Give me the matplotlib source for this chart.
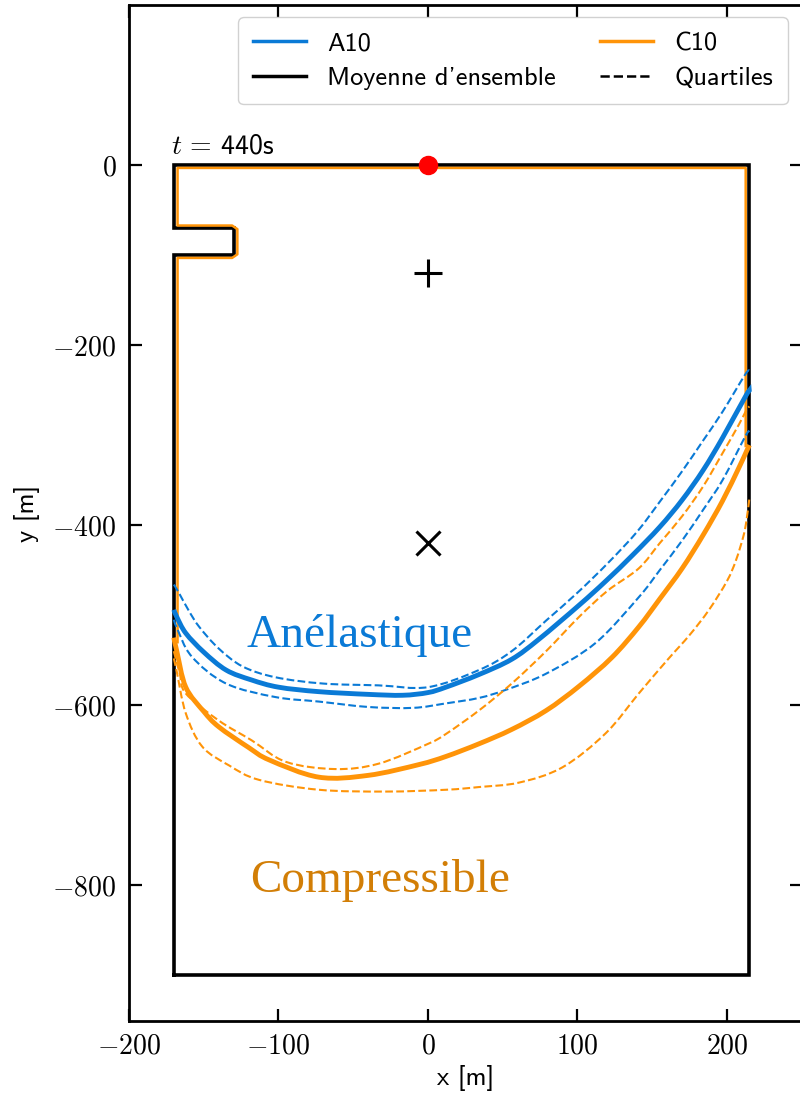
import matplotlib
matplotlib.use("Agg")
import matplotlib.pyplot as plt
from matplotlib.lines import Line2D
from matplotlib.path import Path
from matplotlib.patches import PathPatch

plt.rcParams['mathtext.fontset'] = 'cm'
plt.rcParams['font.family'] = ['cmss10', 'DejaVu Sans']
plt.rcParams['axes.unicode_minus'] = True

BLUE = '#0A7AD6'
ORANGE = '#FF9408'
ORANGE_TXT = '#D27E06'

# ---- data (m) ----
A_mean_x = [-170, -168, -162, -150, -135, -118, -100, -73, -40, -17, 0, 12, 34, 56, 74, 101, 119, 137, 155, 170, 184, 197, 213, 215]
A_mean_y = [-494, -502, -520, -541, -561, -572, -580, -585, -588, -589, -586, -580, -566, -549, -527, -489, -462, -433, -402, -372, -339, -303, -255, -252]

A_up_x = [-170, -167, -160, -153, -140, -124, -102, -70, -33, 0, 34, 56, 79, 100, 121, 140, 155, 170, 184, 197, 212, 215]
A_up_y = [-466, -474, -495, -513, -537, -557, -569, -576, -578, -580, -561, -540, -506, -475, -441, -407, -374, -340, -306, -274, -233, -228]

A_lo_x = [-170, -168, -158, -135, -102, -73, -40, -10, 12, 34, 52, 79, 112, 141, 155, 170, 184, 197, 212, 215]
A_lo_y = [-505, -514, -546, -576, -591, -596, -602, -603, -598, -592, -583, -565, -531, -480, -450, -417, -383, -350, -302, -295]

C_mean_x = [-170, -168, -162, -150, -140, -120, -106, -73, -40, -6, 12, 34, 56, 79, 101, 123, 141, 155, 170, 184, 197, 208, 213, 215]
C_mean_y = [-525, -540, -580, -607, -624, -647, -661, -680, -678, -666, -657, -643, -627, -606, -579, -547, -513, -482, -448, -411, -373, -336, -318, -311]

C_up_x = [-170, -166, -162, -140, -118, -95, -62, -33, 0, 12, 34, 56, 79, 101, 120, 141, 155, 170, 184, 197, 208, 213, 215]
C_up_y = [-540, -565, -587, -617, -639, -663, -671, -665, -643, -632, -606, -576, -540, -502, -473, -448, -420, -390, -357, -320, -288, -272, -268]

C_lo_x = [-170, -168, -162, -151, -133, -113, -73, -28, 12, 34, 61, 90, 119, 141, 160, 175, 188, 200, 206, 211, 213, 215]
C_lo_y = [-548, -563, -609, -646, -667, -683, -694, -696, -694, -691, -686, -669, -631, -587, -550, -522, -494, -462, -439, -412, -395, -370]

# domain geometry
wall_x = [-170, -170, -130, -130, -170, -170, 215, 215, -170]
wall_y = [-900, -100, -100, -70, -70, 0, 0, -900, -900]
front_x = [-167.5, -167.5, -131, -127.5, -127.5, -131, -167.5, -167.5, 212.5, 212.5]
front_y = [-530, -103, -103, -99, -71, -67, -67, -3, -3, -312]

xticks = [-200, -100, 0, 100, 200]
xtick_labels = [r'$-200$', r'$-100$', r'$0$', r'$100$', r'$200$']
yticks = [0, -200, -400, -600, -800]
ytick_labels = [r'$0$', r'$-200$', r'$-400$', r'$-600$', r'$-800$']


def smooth_path(xs, ys):
    """Smooth curve through the given points (Catmull-Rom as cubic Bezier)."""
    pts = list(zip(xs, ys))
    n = len(pts)
    verts = [pts[0]]
    codes = [Path.MOVETO]
    for i in range(n - 1):
        p0 = pts[i - 1] if i > 0 else pts[i]
        p1 = pts[i]
        p2 = pts[i + 1]
        p3 = pts[i + 2] if i + 2 < n else pts[i + 1]
        c1 = (p1[0] + (p2[0] - p0[0]) / 6.0, p1[1] + (p2[1] - p0[1]) / 6.0)
        c2 = (p2[0] - (p3[0] - p1[0]) / 6.0, p2[1] - (p3[1] - p1[1]) / 6.0)
        verts += [c1, c2, p2]
        codes += [Path.CURVE4] * 3
    return Path(verts, codes)


fig = plt.figure(figsize=(8.0, 10.98), dpi=100)
ax = fig.add_axes([0.1612, 0.0701, 0.8410, 0.9253])

ax.plot(wall_x, wall_y, color='black', lw=2.6, solid_joinstyle='miter', zorder=3)
ax.plot(front_x, front_y, color=ORANGE, lw=1.8, zorder=4)

curves = [(A_mean_x, A_mean_y, BLUE, 3.5, '-'),
          (A_up_x, A_up_y, BLUE, 1.5, '--'),
          (A_lo_x, A_lo_y, BLUE, 1.5, '--'),
          (C_mean_x, C_mean_y, ORANGE, 3.5, '-'),
          (C_up_x, C_up_y, ORANGE, 1.5, '--'),
          (C_lo_x, C_lo_y, ORANGE, 1.5, '--')]
for xs, ys, col, lw, ls in curves:
    ax.add_patch(PathPatch(smooth_path(xs, ys), fill=False, edgecolor=col,
                           lw=lw, ls=ls, zorder=5, capstyle='butt'))

ax.plot([0], [0], 'o', color='red', ms=13, zorder=6, clip_on=False)
ax.plot([0], [-120], '+', color='black', ms=20, mew=2.2, zorder=6)
ax.plot([0], [-420], 'x', color='black', ms=17, mew=2.2, zorder=6)

ax.text(-172, 8, r'$t\,=\,$440s', fontsize=20, ha='left', va='bottom')
ax.text(-46, -535, 'Anélastique', fontsize=34, color=BLUE, ha='center', va='baseline',
        family=['Liberation Serif', 'DejaVu Serif'])
ax.text(-32, -808, 'Compressible', fontsize=34, color=ORANGE_TXT, ha='center', va='baseline',
        family=['Liberation Serif', 'DejaVu Serif'])

ax.set_xlim(-200, 250)
ax.set_ylim(-951, 178)
ax.set_xticks(xticks)
ax.set_xticklabels(xtick_labels, fontsize=20)
ax.set_yticks(yticks)
ax.set_yticklabels(ytick_labels, fontsize=20)
ax.tick_params(direction='in', length=9, width=1.6, top=True, right=True, pad=9)
for s in ax.spines.values():
    s.set_linewidth(2.0)
ax.set_xlabel('x [m]', fontsize=19, labelpad=5)
ax.set_ylabel('y [m]', fontsize=19, labelpad=9)

handles = [Line2D([], [], color=BLUE, lw=2.5),
           Line2D([], [], color='black', lw=2.5),
           Line2D([], [], color=ORANGE, lw=2.5),
           Line2D([], [], color='black', lw=1.8, ls='--')]
labels = ['A10', "Moyenne d'ensemble", 'C10', 'Quartiles']
leg = ax.legend(handles, labels, loc='upper right', ncol=2, fontsize=19,
                columnspacing=1.7, labelspacing=0.42, borderpad=0.55, borderaxespad=0.0,
                bbox_to_anchor=(0.979, 0.988), framealpha=0.9)
leg.get_frame().set_edgecolor('#cccccc')

fig.savefig('out.png', dpi=100)
